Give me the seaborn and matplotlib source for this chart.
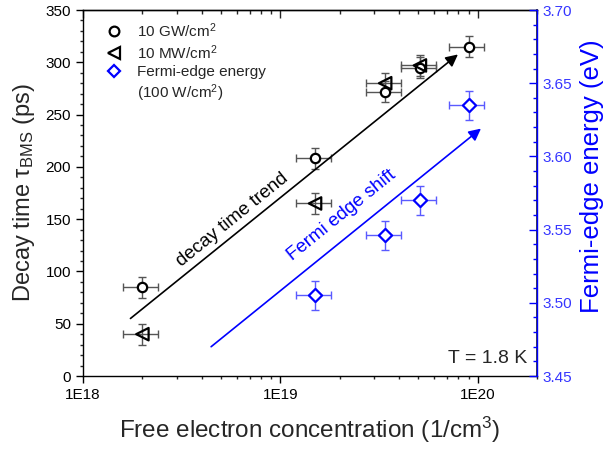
import numpy as np
import pandas as pd
import matplotlib
matplotlib.use("Agg")
import matplotlib.pyplot as plt
from matplotlib.lines import Line2D
from matplotlib.ticker import FixedLocator, MultipleLocator, LogLocator, FuncFormatter, NullFormatter
import seaborn as sns

# Decay time at high excitation (10 GW/cm^2)
conc_gw = [2.0e18, 1.5e19, 3.4e19, 5.1e19, 9.0e19]
tau_gw = [85, 208, 272, 295, 315]
# Decay time at low excitation (10 MW/cm^2)
conc_mw = [2.0e18, 1.5e19, 3.4e19, 5.1e19]
tau_mw = [40, 165, 280, 297]
# Fermi-edge energy (100 W/cm^2)
conc_fe = [1.5e19, 3.4e19, 5.1e19, 9.0e19]
energy_fe = [3.505, 3.546, 3.570, 3.635]

tau_err = 10.0
energy_err = 0.01
conc_rel_err = 0.2

x_ticks = [1e18, 1e19, 1e20]
x_tick_labels = ["1E18", "1E19", "1E20"]

sns.set_theme(style="ticks")
plt.rcParams["font.family"] = ["Liberation Sans", "DejaVu Sans"]
plt.rcParams["mathtext.fontset"] = "custom"
plt.rcParams["mathtext.rm"] = "Liberation Sans"
plt.rcParams["mathtext.it"] = "Liberation Sans:italic"

BLUE = "#0000ff"
BLUE_TXT = "#3535ff"

fig = plt.figure(figsize=(6.05, 4.5), dpi=100)
ax = fig.add_axes([83 / 605, 1 - 376 / 450, (537 - 83) / 605, (376 - 10) / 450])
ax2 = ax.twinx()

df_gw = pd.DataFrame({"conc": conc_gw, "tau": tau_gw})
df_mw = pd.DataFrame({"conc": conc_mw, "tau": tau_mw})
df_fe = pd.DataFrame({"conc": conc_fe, "energy": energy_fe})

# error bars
for df in (df_gw, df_mw):
    c = df["conc"].to_numpy()
    ax.errorbar(c, df["tau"], yerr=tau_err, xerr=conc_rel_err * c, fmt="none",
                ecolor="#555555", elinewidth=1.0, capsize=2.7, capthick=1.0, zorder=2)
c = df_fe["conc"].to_numpy()
ax2.errorbar(c, df_fe["energy"], yerr=energy_err, xerr=conc_rel_err * c, fmt="none",
             ecolor="#5a5aff", elinewidth=1.0, capsize=2.7, capthick=1.0, zorder=2)

sns.scatterplot(data=df_gw, x="conc", y="tau", ax=ax, marker="o", s=45,
                facecolor="white", edgecolor="black", linewidth=1.6, zorder=4)
sns.scatterplot(data=df_mw, x="conc", y="tau", ax=ax, marker="<", s=80,
                facecolor="none", edgecolor="black", linewidth=1.6, zorder=4)
sns.scatterplot(data=df_fe, x="conc", y="energy", ax=ax2, marker="D", s=45,
                facecolor="white", edgecolor=BLUE, linewidth=1.6, zorder=4)

ax.set_xscale("log")
ax.set_xlim(1e18, 2e20)
ax.set_ylim(0, 350)
ax2.set_ylim(3.45, 3.70)

# trend arrows
ax.annotate("", xy=(7.95e19, 307.5), xytext=(1.74e18, 55),
            arrowprops=dict(arrowstyle="-|>", color="black", lw=1.2,
                            mutation_scale=18, shrinkA=0, shrinkB=0))
ax2.annotate("", xy=(1.04e20, 3.619), xytext=(4.46e18, 3.47),
             arrowprops=dict(arrowstyle="-|>", color=BLUE, lw=1.2,
                             mutation_scale=18, shrinkA=0, shrinkB=0))
ax.text(5.73e18, 149, "decay time trend", rotation=39, rotation_mode="anchor",
        ha="center", va="center", fontsize=13.5, color="black")
ax2.text(2.05e19, 3.5595, "Fermi edge shift", rotation=39, rotation_mode="anchor",
         ha="center", va="center", fontsize=13.5, color=BLUE)
ax.text(0.978, 0.024, "T = 1.8 K", transform=ax.transAxes, ha="right", va="bottom",
        fontsize=14)

# axes styling
ax.xaxis.set_major_locator(FixedLocator(x_ticks))
ax.xaxis.set_major_formatter(FuncFormatter(lambda v, p: x_tick_labels[x_ticks.index(v)] if v in x_ticks else ""))
ax.xaxis.set_minor_locator(LogLocator(base=10, subs=np.arange(2, 10)))
ax.xaxis.set_minor_formatter(NullFormatter())
ax.yaxis.set_major_locator(MultipleLocator(50))
ax.yaxis.set_minor_locator(MultipleLocator(10))
ax2.yaxis.set_major_locator(MultipleLocator(0.05))
ax2.yaxis.set_minor_locator(MultipleLocator(0.01))
ax2.yaxis.set_major_formatter(FuncFormatter(lambda v, p: f"{v:.2f}"))

ax.tick_params(axis="both", which="major", direction="out", length=5, width=1,
               labelsize=11, colors="black", pad=3.5)
ax.tick_params(axis="both", which="minor", direction="out", length=2.5, width=1)
ax.tick_params(axis="x", top=False)
ax2.tick_params(axis="y", which="major", direction="in", length=6, width=1,
                colors=BLUE, labelcolor=BLUE_TXT, labelsize=11, pad=4)
ax2.tick_params(axis="y", which="minor", direction="in", length=3, width=1, colors=BLUE)

top = ax.secondary_xaxis("top")
top.xaxis.set_major_locator(FixedLocator(x_ticks))
top.xaxis.set_minor_locator(LogLocator(base=10, subs=np.arange(2, 10)))
top.tick_params(which="major", direction="in", length=6, width=1, labeltop=False)
top.tick_params(which="minor", direction="in", length=3, width=1)
top.xaxis.set_minor_formatter(NullFormatter())

for sp in ("left", "bottom", "top"):
    ax.spines[sp].set_color("black")
    ax.spines[sp].set_linewidth(1.0)
top.spines["top"].set_linewidth(1.0)
ax2.spines["right"].set_color(BLUE)
ax2.spines["right"].set_linewidth(1.0)
ax2.spines["left"].set_visible(False)
ax2.spines["top"].set_visible(False)
ax2.spines["bottom"].set_visible(False)

ax.set_xlabel("Free electron concentration (1/cm$^3$)", fontsize=17.5, labelpad=9)
ax.set_ylabel("Decay time τ$_{\\mathrm{BMS}}$ (ps)", fontsize=17, labelpad=6)
ax2.set_ylabel("Fermi-edge energy (eV)", fontsize=18.5, color=BLUE)
ax2.yaxis.set_label_coords(1.095, 0.545)

# legend
handles = [
    Line2D([], [], ls="none", marker="o", ms=7, mfc="white", mec="black", mew=1.6),
    Line2D([], [], ls="none", marker="<", ms=8, mfc="none", mec="black", mew=1.6),
    Line2D([], [], ls="none", marker="D", ms=6.6, mfc="white", mec=BLUE, mew=1.6),
    Line2D([], [], ls="none"),
]
labels = ["10 GW/cm$^2$", "10 MW/cm$^2$", "Fermi-edge energy", "(100 W/cm$^2$)"]
ax.legend(handles, labels, loc="upper left", bbox_to_anchor=(0.027, 0.995),
          frameon=False, fontsize=11, handlelength=1.2, handletextpad=0.9,
          labelspacing=0.22, borderaxespad=0.2)

fig.savefig("out.png", dpi=100)
